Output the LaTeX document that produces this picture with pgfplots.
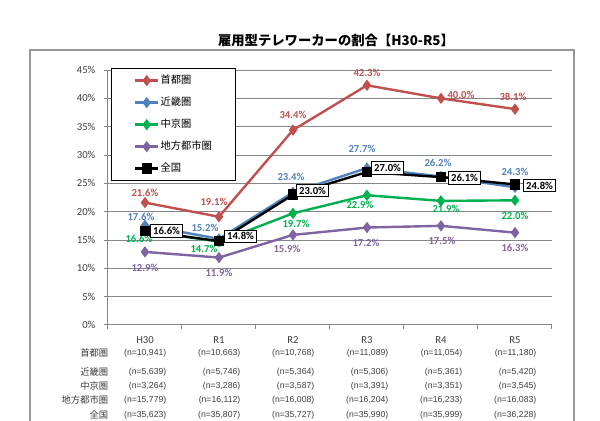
\documentclass[border=0pt]{standalone}
\usepackage{pgfplots}
\pgfplotsset{compat=1.18}
\usepackage{pgfplotstable}
\usepackage{fontspec}
\setmainfont{Carlito}
\newfontfamily\jp{Noto Sans CJK JP}
\newfontfamily\nfont{Liberation Sans}

\definecolor{cShu}{RGB}{192,80,77}
\definecolor{cKin}{RGB}{79,129,189}
\definecolor{cChu}{RGB}{0,176,80}
\definecolor{cChi}{RGB}{128,100,162}
\definecolor{axgray}{RGB}{134,134,134}
\definecolor{boxgray}{RGB}{150,150,150}
\definecolor{txt}{RGB}{60,60,60}

% x = year index, y = share (%), dx/dy = label offset in px
\pgfplotstableread{
x y dx dy
0 21.6 0 10
1 19.1 -5 15
2 34.4 0 15
3 42.3 0 12
4 40.0 20 3
5 38.1 -2 12
}\shutoken
\pgfplotstableread{
x y dx dy
0 17.6 -4 8
1 15.2 -14 11
2 23.4 -2 16
3 27.7 -5 19
4 26.2 -3 14
5 24.3 0 15
}\kinki
\pgfplotstableread{
x y dx dy
0 16.6 -6 -8
1 14.7 -15 -7
2 19.7 3 -10
3 22.9 -7 -10
4 21.9 5 -8
5 22.0 0 -16
}\chukyo
\pgfplotstableread{
x y dx dy
0 12.9 0 -16
1 11.9 0 -15
2 15.9 -6 -14
3 17.2 -1 -15
4 17.5 1 -15
5 16.3 0 -15
}\chiho
\pgfplotstableread{
x y dx dy
0 16.6 5 0
1 14.8 5 5
2 23.0 3 4
3 27.0 4 4
4 26.1 7 -1
5 24.8 8 -1
}\zenkoku

\begin{document}
\begin{tikzpicture}[x=0.75pt,y=0.75pt]
\useasboundingbox (0,0) rectangle (600,421);
\node[font=\jp\bfseries\fontsize{10}{12}\selectfont] at (336,381) {雇用型テレワーカーの割合【H30-R5】};

\begin{axis}[
    at={(81pt,72pt)}, anchor=south west,
    scale only axis, width=333pt, height=191.25pt,
    xmin=-0.5, xmax=5.5, ymin=0, ymax=45,
    clip=false,
    axis x line*=bottom, axis y line*=left,
    axis line style={axgray, line width=0.75pt, -},
    xtick={-0.5,0.5,...,5.5},
    xticklabels={},
    extra x ticks={0,1,2,3,4,5},
    extra x tick labels={H30,R1,R2,R3,R4,R5},
    extra x tick style={major tick length=0pt, grid=none,
        xticklabel style={yshift=-5pt}},
    ytick={0,5,...,45},
    yticklabel={\pgfmathprintnumber{\tick}\%},
    /pgf/number format/assume math mode=true,
    tick align=outside, major tick length=3pt,
    tick style={axgray, line width=0.75pt},
    ymajorgrids, grid style={axgray, line width=0.75pt},
    tick label style={font=\fontsize{8}{9}\selectfont, text=txt},
    yticklabel style={xshift=-3pt},
    legend style={at={(0.0068,1.006)}, anchor=north west, draw=black,
        line width=0.75pt, fill=white, font=\jp\fontsize{7.7}{9}\selectfont,
        inner xsep=17pt, inner ysep=4pt, row sep=7pt,
        nodes={inner sep=1pt, text height=6pt, text depth=1.5pt},
        cells={anchor=west}},
    legend image code/.code={\draw[mark repeat=2,mark phase=2,#1] plot coordinates {(0pt,0pt) (8.5pt,0pt) (17pt,0pt)};},
    visualization depends on={\thisrow{dx} \as \dx},
    visualization depends on={\thisrow{dy} \as \dy},
    nodes near coords={\pgfmathprintnumber[fixed,fixed zerofill,precision=1]{\pgfplotspointmeta}\%},
    every node near coord/.append style={anchor=center, inner sep=0pt,
        font=\bfseries\fontsize{8}{9}\selectfont,
        xshift=\dx*0.75pt, yshift=\dy*0.75pt},
]
% outer grey frame round the whole chart (open at the bottom)
\draw[boxgray, line width=1.2pt] (axis cs:-1.554,-17.6) -- (axis cs:-1.554,48.53)
    -- (axis cs:5.797,48.53) -- (axis cs:5.797,-17.6);

\addplot[color=cShu, line width=1.8pt, mark=diamond*, mark size=2.8pt,
    every node near coord/.append style={text=cShu}] table[x=x,y=y] {\shutoken};
\addlegendentry{首都圏}
\addplot[color=cKin, line width=1.8pt, mark=diamond*, mark size=2.8pt,
    every node near coord/.append style={text=cKin}] table[x=x,y=y] {\kinki};
\addlegendentry{近畿圏}
\addplot[color=cChu, line width=1.8pt, mark=diamond*, mark size=2.8pt,
    every node near coord/.append style={text=cChu}] table[x=x,y=y] {\chukyo};
\addlegendentry{中京圏}
\addplot[color=cChi, line width=1.8pt, mark=diamond*, mark size=2.8pt,
    every node near coord/.append style={text=cChi}] table[x=x,y=y] {\chiho};
\addlegendentry{地方都市圏}
\addplot[color=black, line width=1.8pt, mark=square*, mark size=3pt,
    every node near coord/.append style={text=black, anchor=west, draw=black,
        fill=white, line width=0.75pt, inner xsep=2pt, inner ysep=1.8pt}] table[x=x,y=y] {\zenkoku};
\addlegendentry{全国}
\end{axis}

% sample sizes under the chart
\begin{scope}[every node/.style={text=txt}]
\foreach \lab/\yy in {首都圏/353, 近畿圏/372, 中京圏/386, 地方都市圏/400, 全国/415}
  \node[anchor=east, font=\jp\fontsize{7}{8}\selectfont] at (113,421-\yy) {\lab};
\foreach \v [count=\i from 0] in {{10,941},{10,663},{10,768},{11,089},{11,054},{11,180}}
  \node[anchor=east, font=\nfont\fontsize{6.5}{8}\selectfont] at ({171+74*\i},68) {(n=\v)};
\foreach \v [count=\i from 0] in {{5,639},{5,746},{5,364},{5,306},{5,361},{5,420}}
  \node[anchor=east, font=\nfont\fontsize{6.5}{8}\selectfont] at ({171+74*\i},49) {(n=\v)};
\foreach \v [count=\i from 0] in {{3,264},{3,286},{3,587},{3,391},{3,351},{3,545}}
  \node[anchor=east, font=\nfont\fontsize{6.5}{8}\selectfont] at ({171+74*\i},35) {(n=\v)};
\foreach \v [count=\i from 0] in {{15,779},{16,112},{16,008},{16,204},{16,233},{16,083}}
  \node[anchor=east, font=\nfont\fontsize{6.5}{8}\selectfont] at ({171+74*\i},21) {(n=\v)};
\foreach \v [count=\i from 0] in {{35,623},{35,807},{35,727},{35,990},{35,999},{36,228}}
  \node[anchor=east, font=\nfont\fontsize{6.5}{8}\selectfont] at ({171+74*\i},6) {(n=\v)};
\end{scope}
\end{tikzpicture}
\end{document}
